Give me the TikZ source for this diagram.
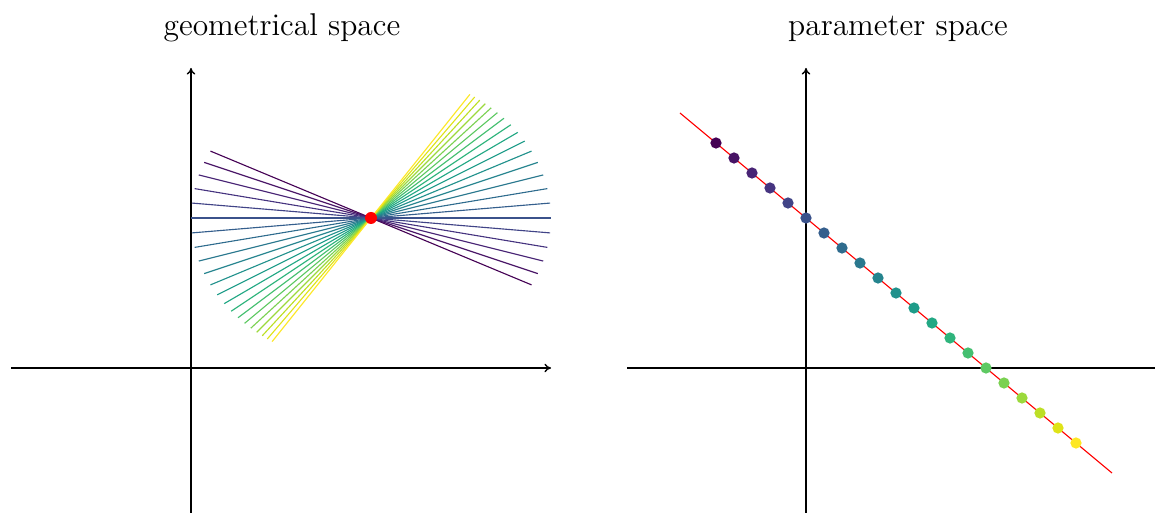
\documentclass[tikz,border=0pt]{standalone}
\usetikzlibrary{calc,arrows.meta}
\definecolor{v0}{HTML}{440154}
\definecolor{v1}{HTML}{471365}
\definecolor{v2}{HTML}{482475}
\definecolor{v3}{HTML}{463480}
\definecolor{v4}{HTML}{414487}
\definecolor{v5}{HTML}{3B528B}
\definecolor{v6}{HTML}{355F8D}
\definecolor{v7}{HTML}{2F6C8E}
\definecolor{v8}{HTML}{2A788E}
\definecolor{v9}{HTML}{25848E}
\definecolor{v10}{HTML}{21918C}
\definecolor{v11}{HTML}{1E9C89}
\definecolor{v12}{HTML}{22A884}
\definecolor{v13}{HTML}{2FB47C}
\definecolor{v14}{HTML}{44BF70}
\definecolor{v15}{HTML}{5EC962}
\definecolor{v16}{HTML}{7AD151}
\definecolor{v17}{HTML}{9BD93C}
\definecolor{v18}{HTML}{BDDF26}
\definecolor{v19}{HTML}{DFE318}
\definecolor{v20}{HTML}{FDE725}
\begin{document}
\begin{tikzpicture}[x=0.4pt,y=0.4pt,
  axis/.style={line width=0.55pt, black},
  axisarrow/.style={axis, -{To[length=2.6pt,width=3.4pt]}},
  ray/.style={line width=0.45pt},
  param/.style={line width=0.45pt, red},
  title/.style={font=\fontsize{12.6}{15}\selectfont, anchor=base, inner sep=0pt}]
\useasboundingbox (0,0) rectangle (1155,513);
% reference points
\coordinate (O1) at (191,145);
\coordinate (P) at (371,295);
\coordinate (O2) at (806,145);
\coordinate (Q) at (806,295);
% titles
\node[title] (t1) at (282,477) {geometrical space};
\node[title] (t2) at (898,477) {parameter space};
% left axes
\draw[axisarrow] ($(O1)+(-180,0)$) -- ($(O1)+(360,0)$);
\draw[axisarrow] ($(O1)+(0,-145)$) -- ($(O1)+(0,300)$);
% pencil of lines
\foreach \i in {0,...,20}{
  \pgfmathsetmacro\m{(\i-5)/12}
  \pgfmathsetmacro\dx{180/sqrt(1+1.48*\m*\m)}
  \pgfmathsetmacro\dy{\m*\dx}
  \draw[ray, draw=v\i] (P) ++(-\dx,-\dy) -- ++(2*\dx,2*\dy);
}
\fill[red] (P) circle[radius=2.4pt];
% right axes
\draw[axis] ($(O2)+(-179,0)$) -- ($(O2)+(349,0)$);
\draw[axisarrow] ($(O2)+(0,-145)$) -- ($(O2)+(0,300)$);
% parameter line
\draw[param] ($(Q)+(-126,105)$) -- ($(Q)+(306,-255)$);
\foreach \i in {0,...,20}{
  \fill[v\i] ($(Q)+({(\i-5)*18},{-(\i-5)*15})$) circle[radius=2.25pt];
}
\end{tikzpicture}
\end{document}
